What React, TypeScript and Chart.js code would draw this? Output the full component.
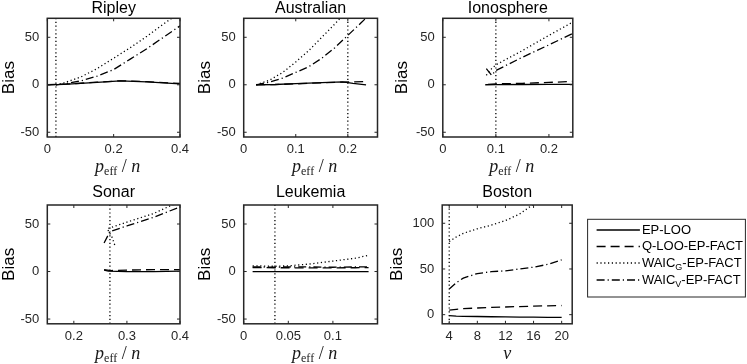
import React, { useEffect, useRef } from 'react';
import { Chart, registerables } from 'chart.js';
Chart.register(...registerables);

const SANS = '"Liberation Sans", Arial, Helvetica, sans-serif';
const SERIF = '"Liberation Serif", "Times New Roman", serif';
const INK = '#262626';

// ---------------- data ----------------
const SERIES_LABELS = ['EP-LOO', 'Q-LOO-EP-FACT', 'WAIC_G-EP-FACT', 'WAIC_V-EP-FACT'];
const ROW_Y_TICKS = [-50, 0, 50];
const BOSTON_Y_TICKS = [0, 50, 100];

// Ripley
const RIP_X_TICKS = [0, 0.2, 0.4];
const RIP_LOO_X = [0, 0.05, 0.1, 0.15, 0.22, 0.3, 0.4];
const RIP_LOO_Y = [0, 0.5, 1.5, 2.5, 4, 3, 1];
const RIP_QLOO_Y = [0, 0.6, 1.6, 2.7, 4.2, 3.3, 1.4];
const RIP_WAIC_X = [0.026, 0.05, 0.1, 0.15, 0.2, 0.25, 0.3, 0.35, 0.4];
const RIP_WAICG_Y = [0, 2, 8, 17, 28, 39, 51, 64, 76];
const RIP_WAICV_Y = [0, 1, 4, 9, 16, 27, 38, 50, 62];
const RIP_REF = 0.026;

// Australian
const AUS_X_TICKS = [0, 0.1, 0.2];
const AUS_LOO_X = [0.024, 0.06, 0.1, 0.15, 0.19, 0.21, 0.235];
const AUS_LOO_Y = [0, 0.3, 1.2, 2.2, 3, 1.5, 0];
const AUS_QLOO_Y = [0, 0.2, 1, 2, 2.8, 3, 3.5];
const AUS_WAICG_X = [0.024, 0.05, 0.075, 0.1, 0.125, 0.15, 0.175, 0.19];
const AUS_WAICG_Y = [0, 5, 13, 24, 36, 50, 64, 73];
const AUS_WAICV_X = [0.024, 0.05, 0.075, 0.1, 0.125, 0.15, 0.175, 0.2, 0.225, 0.24];
const AUS_WAICV_Y = [0, 3, 7, 13, 19, 28, 39, 52, 65, 73];
const AUS_REF = 0.2;

// Ionosphere
const ION_X_TICKS = [0, 0.1, 0.2];
const ION_LOO_X = [0.08, 0.1, 0.15, 0.2, 0.245];
const ION_LOO_Y = [0, 0.2, 0.3, 0.4, 0.5];
const ION_QLOO_X = [0.085, 0.1, 0.15, 0.2, 0.245];
const ION_QLOO_Y = [0.5, 1, 1.5, 2.5, 3.5];
const ION_WAIC_X = [0.082, 0.092, 0.1, 0.15, 0.2, 0.245];
const ION_WAICG_Y = [10, 17, 21, 36, 52, 66];
const ION_WAICV_Y = [17, 10, 15, 29, 42, 54];
const ION_REF = 0.1;

// Sonar
const SON_X_TICKS = [0.2, 0.3, 0.4];
const SON_LOO_X = [0.257, 0.265, 0.3, 0.35, 0.4];
const SON_LOO_Y = [1.5, 0.5, 0, 0, 0.5];
const SON_QLOO_X = [0.257, 0.27, 0.3, 0.35, 0.4];
const SON_QLOO_Y = [2, 1, 1.5, 2, 2];
const SON_WAICG_X = [0.277, 0.272, 0.263, 0.3, 0.35, 0.385, 0.4];
const SON_WAICG_Y = [28, 36, 45, 52, 61, 70, 73];
const SON_WAICV_X = [0.257, 0.268, 0.3, 0.35, 0.4];
const SON_WAICV_Y = [30, 42, 48, 57, 68];
const SON_REF = 0.268;

// Leukemia
const LEU_X_TICKS = [0, 0.05, 0.1];
const LEU_X = [0.01, 0.035, 0.05, 0.075, 0.1, 0.125, 0.14];
const LEU_LOO_Y = [0, 0, 0, 0, 0, 0, 0];
const LEU_QLOO_Y = [4.2, 4, 4, 3.8, 3.9, 4, 4.1];
const LEU_WAICG_Y = [6, 5.5, 6, 8, 11, 14, 17];
const LEU_WAICV_Y = [5, 4.5, 5, 4.8, 4.5, 4.8, 5];
const LEU_REF = 0.035;

// Boston
const BOS_X_TICKS = [4, 8, 12, 16, 20];
const BOS_NU = [4, 5, 6, 8, 10, 12, 14, 16, 18, 20];
const BOS_LOO_Y = [-1, -1.5, -1.8, -2, -2.3, -2.5, -2.7, -2.8, -2.9, -3];
const BOS_QLOO_Y = [5, 5.8, 6.5, 7.3, 7.9, 8.4, 8.9, 9.3, 9.7, 10];
const BOS_WAICG_Y = [80, 85, 89, 94, 98, 103, 110, 121, 130, 140];
const BOS_WAICV_Y = [28, 35, 40, 45, 47, 48, 50, 52, 55, 60];
const BOS_REF = 4;

// ---------------- styles ----------------
const DASHES: number[][] = [[], [9, 5], [1.2, 2.6], [8, 3, 1.2, 3]];
const LINE_W = 1.3;

const pts = (xs: number[], ys: number[]) => xs.map((x, i) => ({ x, y: ys[i] }));

type Series = { xs: number[]; ys: number[]; style: number };
type Panel = {
  title: string;
  cx: number; cy: number; cw: number; ch: number;
  plot: [number, number, number, number];
  titleMid: number;
  xmin: number; xmax: number; xticks: number[];
  ymin: number; ymax: number; yticks: number[];
  xlabel: 'peff' | 'nu';
  series: Series[];
  ref: number;
  legend?: boolean;
};

const ROW1 = { cy: 0, ch: 182, top: 18.3, bottom: 137, mid: 9 };
const ROW2 = { cy: 182, ch: 182, top: 205, bottom: 323.8, mid: 193 };

const PANELS: Panel[] = [
  {
    title: 'Ripley', cx: -1, cy: ROW1.cy, cw: 206, ch: ROW1.ch, plot: [47.3, ROW1.top, 180, ROW1.bottom], titleMid: ROW1.mid,
    xmin: 0, xmax: 0.4, xticks: RIP_X_TICKS, ymin: -55, ymax: 70, yticks: ROW_Y_TICKS, xlabel: 'peff',
    series: [
      { xs: RIP_LOO_X, ys: RIP_QLOO_Y, style: 1 },
      { xs: RIP_LOO_X, ys: RIP_LOO_Y, style: 0 },
      { xs: RIP_WAIC_X, ys: RIP_WAICG_Y, style: 2 },
      { xs: RIP_WAIC_X, ys: RIP_WAICV_Y, style: 3 },
    ], ref: RIP_REF,
  },
  {
    title: 'Australian', cx: 194.8, cy: ROW1.cy, cw: 206, ch: ROW1.ch, plot: [243.5, ROW1.top, 377.3, ROW1.bottom], titleMid: ROW1.mid,
    xmin: 0, xmax: 0.257, xticks: AUS_X_TICKS, ymin: -55, ymax: 70, yticks: ROW_Y_TICKS, xlabel: 'peff',
    series: [
      { xs: AUS_LOO_X, ys: AUS_QLOO_Y, style: 1 },
      { xs: AUS_LOO_X, ys: AUS_LOO_Y, style: 0 },
      { xs: AUS_WAICG_X, ys: AUS_WAICG_Y, style: 2 },
      { xs: AUS_WAICV_X, ys: AUS_WAICV_Y, style: 3 },
    ], ref: AUS_REF,
  },
  {
    title: 'Ionosphere', cx: 391.5, cy: ROW1.cy, cw: 200, ch: ROW1.ch, plot: [442.3, ROW1.top, 572.3, ROW1.bottom], titleMid: ROW1.mid,
    xmin: 0, xmax: 0.245, xticks: ION_X_TICKS, ymin: -55, ymax: 70, yticks: ROW_Y_TICKS, xlabel: 'peff',
    series: [
      { xs: ION_QLOO_X, ys: ION_QLOO_Y, style: 1 },
      { xs: ION_LOO_X, ys: ION_LOO_Y, style: 0 },
      { xs: ION_WAIC_X, ys: ION_WAICG_Y, style: 2 },
      { xs: ION_WAIC_X, ys: ION_WAICV_Y, style: 3 },
    ], ref: ION_REF,
  },
  {
    title: 'Sonar', cx: -1, cy: ROW2.cy, cw: 206, ch: ROW2.ch, plot: [47.3, ROW2.top, 180, ROW2.bottom], titleMid: ROW2.mid,
    xmin: 0.15, xmax: 0.4, xticks: SON_X_TICKS, ymin: -55, ymax: 70, yticks: ROW_Y_TICKS, xlabel: 'peff',
    series: [
      { xs: SON_QLOO_X, ys: SON_QLOO_Y, style: 1 },
      { xs: SON_LOO_X, ys: SON_LOO_Y, style: 0 },
      { xs: SON_WAICG_X, ys: SON_WAICG_Y, style: 2 },
      { xs: SON_WAICV_X, ys: SON_WAICV_Y, style: 3 },
    ], ref: SON_REF,
  },
  {
    title: 'Leukemia', cx: 194.8, cy: ROW2.cy, cw: 206, ch: ROW2.ch, plot: [243.5, ROW2.top, 377.3, ROW2.bottom], titleMid: ROW2.mid,
    xmin: 0, xmax: 0.15, xticks: LEU_X_TICKS, ymin: -55, ymax: 70, yticks: ROW_Y_TICKS, xlabel: 'peff',
    series: [
      { xs: LEU_X, ys: LEU_QLOO_Y, style: 1 },
      { xs: LEU_X, ys: LEU_LOO_Y, style: 0 },
      { xs: LEU_X, ys: LEU_WAICG_Y, style: 2 },
      { xs: LEU_X, ys: LEU_WAICV_Y, style: 3 },
    ], ref: LEU_REF,
  },
  {
    title: 'Boston', cx: 387.1, cy: ROW2.cy, cw: 360, ch: ROW2.ch, plot: [442.3, ROW2.top, 572.3, ROW2.bottom], titleMid: ROW2.mid,
    xmin: 3, xmax: 21.5, xticks: BOS_X_TICKS, ymin: -10, ymax: 120, yticks: BOSTON_Y_TICKS, xlabel: 'nu',
    series: [
      { xs: BOS_NU, ys: BOS_QLOO_Y, style: 1 },
      { xs: BOS_NU, ys: BOS_LOO_Y, style: 0 },
      { xs: BOS_NU, ys: BOS_WAICG_Y, style: 2 },
      { xs: BOS_NU, ys: BOS_WAICV_Y, style: 3 },
    ], ref: BOS_REF, legend: true,
  },
];

const TITLE_SIZE = 16;
const TICK_SIZE = 13;
const YLABEL_SIZE = 17;

// ---------------- drawing helpers ----------------
function drawParts(ctx: CanvasRenderingContext2D, parts: { t: string; font: string; dy: number }[], cx: number, by: number) {
  let total = 0;
  for (const p of parts) { ctx.font = p.font; total += ctx.measureText(p.t).width; }
  let x = cx - total / 2;
  ctx.textAlign = 'left';
  ctx.textBaseline = 'alphabetic';
  for (const p of parts) {
    ctx.font = p.font;
    ctx.fillText(p.t, x, by + p.dy);
    x += ctx.measureText(p.t).width;
  }
}

function drawLegend(ctx: CanvasRenderingContext2D, ox: number, oy: number) {
  const L = 587.7 - ox, T = 219.3 - oy, R = 745.5 - ox, B = 297 - oy;
  ctx.save();
  ctx.fillStyle = '#fff';
  ctx.fillRect(L, T, R - L, B - T);
  ctx.strokeStyle = INK;
  ctx.lineWidth = 1;
  ctx.strokeRect(L, T, R - L, B - T);
  const rows = [230, 246.5, 263, 280];
  const font = `13px ${SANS}`;
  const sub = `9px ${SANS}`;
  rows.forEach((ry, i) => {
    const y = ry - oy;
    ctx.beginPath();
    ctx.setLineDash(DASHES[i]);
    ctx.lineWidth = LINE_W;
    ctx.strokeStyle = '#000';
    ctx.moveTo(596.7 - ox, y);
    ctx.lineTo(640 - ox, y);
    ctx.stroke();
    ctx.setLineDash([]);
    ctx.fillStyle = '#000';
    ctx.textBaseline = 'middle';
    ctx.textAlign = 'left';
    let x = 642 - ox;
    const label = SERIES_LABELS[i];
    const m = label.match(/^(\w+)_(\w)(.*)$/);
    if (m) {
      ctx.font = font; ctx.fillText(m[1], x, y); x += ctx.measureText(m[1]).width;
      ctx.font = sub; ctx.fillText(m[2], x, y + 5); x += ctx.measureText(m[2]).width;
      ctx.font = font; ctx.fillText(m[3], x, y);
    } else {
      ctx.font = font; ctx.fillText(label, x, y);
    }
  });
  ctx.restore();
}

const framePlugin = {
  id: 'frame',
  afterDatasetsDraw(chart: any, _args: any, opts: any) {
    const { ctx, chartArea: a, scales } = chart;
    ctx.save();
    ctx.strokeStyle = INK;
    ctx.lineWidth = 1;
    ctx.setLineDash([]);
    const tl = 3;
    ctx.beginPath();
    scales.x.ticks.forEach((t: any) => {
      const px = scales.x.getPixelForValue(t.value);
      ctx.moveTo(px, a.bottom); ctx.lineTo(px, a.bottom - tl);
      ctx.moveTo(px, a.top); ctx.lineTo(px, a.top + tl);
    });
    scales.y.ticks.forEach((t: any) => {
      const py = scales.y.getPixelForValue(t.value);
      ctx.moveTo(a.left, py); ctx.lineTo(a.left + tl, py);
      ctx.moveTo(a.right, py); ctx.lineTo(a.right - tl, py);
    });
    ctx.stroke();
    ctx.lineWidth = 1.5;
    ctx.strokeRect(a.left, a.top, a.right - a.left, a.bottom - a.top);
    // x label
    ctx.fillStyle = '#1a1a1a';
    const cx = (a.left + a.right) / 2;
    const by = a.bottom + 35;
    if (opts.xlabel === 'peff') {
      drawParts(ctx, [
        { t: 'p', font: `italic 18px ${SERIF}`, dy: 0 },
        { t: 'eff', font: `12px ${SERIF}`, dy: 3 },
        { t: ' / ', font: `18px ${SERIF}`, dy: 0 },
        { t: 'n', font: `italic 18px ${SERIF}`, dy: 0 },
      ], cx + 4, by);
    } else {
      drawParts(ctx, [{ t: 'ν', font: `italic 18px ${SERIF}`, dy: 0 }], cx, by);
    }
    if (opts.legend) drawLegend(ctx, opts.ox, opts.oy);
    ctx.restore();
  },
};

function fmt(v: number) {
  return String(Number(v.toPrecision(6)));
}

function buildConfig(p: Panel): any {
  const [pl, pt, pr, pb] = p.plot;
  const yW = pl - p.cx;
  const xH = p.cy + p.ch - pb;
  const tH = pt - p.cy;
  const lh = TITLE_SIZE * 1.2;
  const titleTop = Math.max(0, p.titleMid - p.cy - lh / 2);
  const titleBottom = Math.max(0, tH - lh - titleTop);
  const datasets: any[] = p.series.map((s) => ({
    data: pts(s.xs, s.ys),
    borderColor: '#000',
    borderWidth: LINE_W,
    borderDash: DASHES[s.style],
    pointRadius: 0,
    fill: false,
    tension: 0,
  }));
  datasets.push({
    data: [{ x: p.ref, y: p.ymin }, { x: p.ref, y: p.ymax }],
    borderColor: '#000',
    borderWidth: LINE_W,
    borderDash: DASHES[2],
    pointRadius: 0,
    fill: false,
  });
  const zeroPad = (s: any) => { s.paddingLeft = 0; s.paddingRight = 0; s.paddingTop = 0; s.paddingBottom = 0; };
  return {
    type: 'line',
    data: { datasets },
    options: {
      animation: false,
      responsive: false,
      devicePixelRatio: 1,
      events: [],
      layout: { padding: { left: 0, top: tH - titleTop - lh - titleBottom, bottom: 0, right: p.cx + p.cw - pr } },
      plugins: {
        legend: { display: false },
        tooltip: { enabled: false },
        title: {
          display: true, text: p.title, fullSize: false, color: '#000',
          font: { family: SANS, size: TITLE_SIZE, weight: 'normal', lineHeight: 1.2 },
          padding: { top: titleTop, bottom: titleBottom },
        },
        frame: { xlabel: p.xlabel, legend: !!p.legend, ox: p.cx, oy: p.cy },
      },
      scales: {
        x: {
          type: 'linear', min: p.xmin, max: p.xmax,
          grid: { display: false, drawTicks: false },
          border: { display: false },
          ticks: { color: INK, font: { family: SANS, size: TICK_SIZE }, padding: 5, maxRotation: 0, autoSkip: false, callback: (v: number) => fmt(v) },
          afterBuildTicks: (s: any) => { s.ticks = p.xticks.map((v) => ({ value: v })); },
          afterFit: (s: any) => { s.height = xH; zeroPad(s); },
        },
        y: {
          type: 'linear', min: p.ymin, max: p.ymax,
          grid: { display: false, drawTicks: false },
          border: { display: false },
          title: { display: true, text: 'Bias', color: '#000', font: { family: SANS, size: YLABEL_SIZE, lineHeight: 1.2 }, padding: { top: 0, bottom: 0 } },
          ticks: { color: INK, font: { family: SANS, size: TICK_SIZE }, padding: 8, autoSkip: false, callback: (v: number) => fmt(v) },
          afterBuildTicks: (s: any) => { s.ticks = p.yticks.map((v) => ({ value: v })); },
          afterFit: (s: any) => { s.width = yW; zeroPad(s); },
        },
      },
    },
    plugins: [framePlugin],
  };
}

export default function App() {
  const refs = useRef<(HTMLCanvasElement | null)[]>([]);
  useEffect(() => {
    const charts = PANELS.map((p, i) => new Chart(refs.current[i] as HTMLCanvasElement, buildConfig(p)));
    return () => charts.forEach((c) => c.destroy());
  }, []);
  return (
    <div style={{ position: 'fixed', left: 0, top: 0, width: 747, height: 364, background: '#fff', overflow: 'hidden' }}>
      {PANELS.map((p, i) => (
        <canvas
          key={p.title}
          ref={(el) => { refs.current[i] = el; }}
          width={p.cw}
          height={p.ch}
          style={{ position: 'absolute', left: p.cx, top: p.cy, width: p.cw, height: p.ch }}
        />
      ))}
    </div>
  );
}
